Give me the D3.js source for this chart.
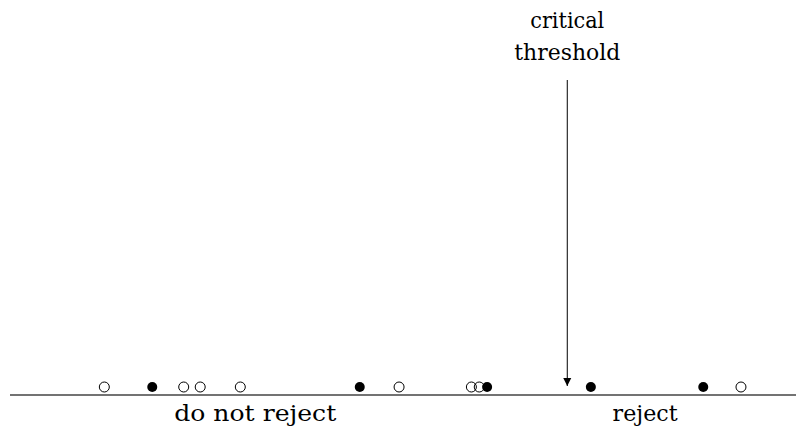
<!DOCTYPE html>
<html><head><meta charset="utf-8">
<script src="https://d3js.org/d3.v7.min.js"></script>
<style>body{margin:0;background:#fff}</style>
</head><body><svg id="c" width="796" height="429"></svg>
<script>
const openValues = [1.20, 2.21, 2.42, 2.93, 4.95, 5.87, 5.97, 9.30];
const filledValues = [1.81, 4.45, 6.07, 7.39, 8.82];
const threshold = 7.09;
const regionLabels = ["do not reject", "reject"];
const regionCenters = [3.12, 8.08];
const thresholdLabel = ["critical", "threshold"];

const svg = d3.select("#c");
const x = d3.scaleLinear().domain([0, 10]).range([10, 796]);
const axisY = 395, ptY = 387, r = 5;
const font = "'DejaVu Serif', serif";

svg.append("line").attr("x1", x(0)).attr("x2", x(10)).attr("y1", axisY).attr("y2", axisY)
  .attr("stroke", "#444").attr("stroke-width", 1.3);

svg.selectAll("circle.o").data(openValues).join("circle").attr("class","o")
  .attr("cx", d => x(d)).attr("cy", ptY).attr("r", r)
  .attr("fill", "none").attr("stroke", "#000").attr("stroke-width", 1);
svg.selectAll("circle.f").data(filledValues).join("circle").attr("class","f")
  .attr("cx", d => x(d)).attr("cy", ptY).attr("r", r).attr("fill", "#000");

svg.append("defs").append("marker").attr("id","ah").attr("viewBox","0 0 10 10")
  .attr("refX", 10).attr("refY", 5).attr("markerWidth", 8).attr("markerHeight", 10)
  .attr("markerUnits","userSpaceOnUse").attr("orient","auto")
  .append("path").attr("d","M0,0 L10,5 L0,10 z").attr("fill","#000");
svg.append("line").attr("x1", x(threshold)).attr("x2", x(threshold)).attr("y1", 80).attr("y2", 386)
  .attr("stroke","#000").attr("stroke-width",1).attr("marker-end","url(#ah)");

svg.selectAll("text.th").data(thresholdLabel).join("text").attr("class","th")
  .attr("x", x(threshold)).attr("y", (d,i) => 28 + i*32).attr("text-anchor","middle")
  .attr("font-family", font).attr("font-size", 22).text(d => d);

svg.selectAll("text.rg").data(regionLabels).join("text").attr("class","rg")
  .attr("x", (d,i) => x(regionCenters[i])).attr("y", 421).attr("text-anchor","middle")
  .attr("font-family", font).attr("font-size", 22).text(d => d);
// reference widths
const targetW = {"critical":74, "threshold":106, "do not reject":162, "reject":65};
svg.selectAll("text").each(function(d){
  if (targetW[d]) d3.select(this).attr("textLength", targetW[d]).attr("lengthAdjust","spacingAndGlyphs");
});
</script></body></html>
